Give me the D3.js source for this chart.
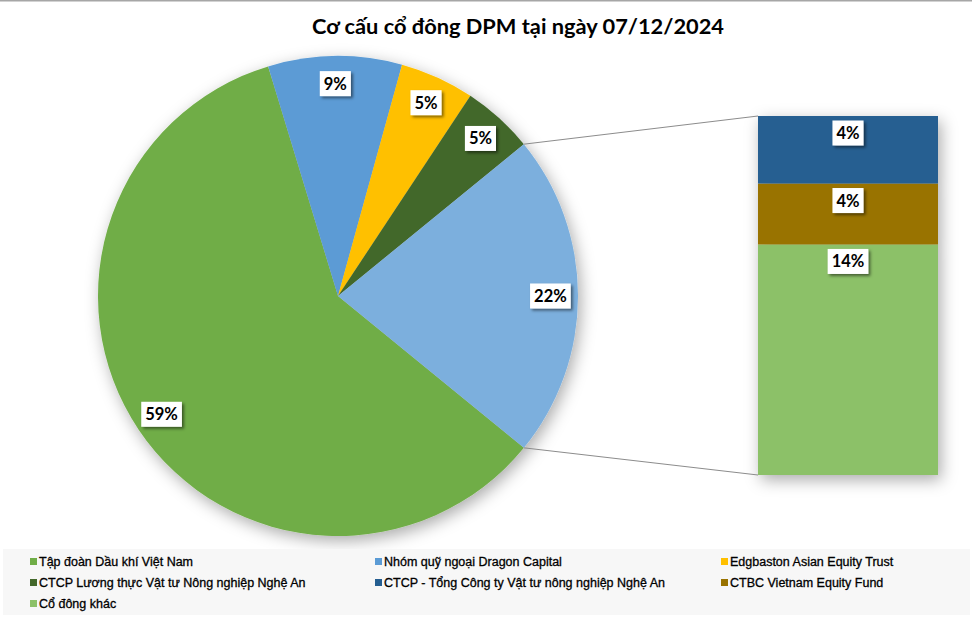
<!DOCTYPE html>
<html>
<head>
<meta charset="utf-8">
<script src="https://cdn.jsdelivr.net/npm/d3@7"></script>
<style>
  html, body { margin: 0; padding: 0; background: #ffffff; }
  svg { display: block; }
</style>
</head>
<body>
<svg id="chart" width="972" height="620"></svg>
<script>
// ---- data ----
const title = "Cơ cấu cổ đông DPM tại ngày 07/12/2024";
const pieNames = ["Tập đoàn Dầu khí Việt Nam", "Nhóm quỹ ngoại Dragon Capital", "Edgbaston Asian Equity Trust", "CTCP Lương thực Vật tư Nông nghiệp Nghệ An"];
const pieValues = [59.4, 9.0, 5.0, 4.8];
const pieColors = ["#70ad47", "#5b9bd5", "#ffc000", "#43682b"];
const otherColor = "#7cafdd";
const barNames = ["CTCP - Tổng Công ty Vật tư nông nghiệp Nghệ An", "CTBC Vietnam Equity Fund", "Cổ đông khác"];
const barValues = [4.1, 3.7, 14.0];
const barColors = ["#255e91", "#997300", "#8cc168"];
const legendNames = ["Tập đoàn Dầu khí Việt Nam", "Nhóm quỹ ngoại Dragon Capital", "Edgbaston Asian Equity Trust",
  "CTCP Lương thực Vật tư Nông nghiệp Nghệ An", "CTCP - Tổng Công ty Vật tư nông nghiệp Nghệ An", "CTBC Vietnam Equity Fund", "Cổ đông khác"];
const legendColors = ["#70ad47", "#5b9bd5", "#ffc000", "#43682b", "#255e91", "#997300", "#8cc168"];

const svg = d3.select("#chart");
const W = 972, H = 620;
const fmt = v => Math.round(v) + "%";

// defs
const defs = svg.append("defs");
const sh = defs.append("filter").attr("id", "shadow").attr("x", "-20%").attr("y", "-20%").attr("width", "140%").attr("height", "140%");
sh.append("feDropShadow").attr("dx", 3).attr("dy", 5).attr("stdDeviation", 8).attr("flood-color", "#000").attr("flood-opacity", 0.33);
const lsh = defs.append("filter").attr("id", "lshadow").attr("x", "-30%").attr("y", "-30%").attr("width", "160%").attr("height", "160%");
lsh.append("feDropShadow").attr("dx", 2).attr("dy", 2).attr("stdDeviation", 1.5).attr("flood-color", "#000").attr("flood-opacity", 0.5);

// background + top line
svg.append("rect").attr("width", W).attr("height", H).attr("fill", "#fff");
svg.append("rect").attr("x", 0).attr("y", 0).attr("width", W).attr("height", 1.5).attr("fill", "#a6a6a6");

// title
svg.append("text").attr("x", 518).attr("y", 34).attr("text-anchor", "middle")
  .attr("font-family", "Lato, 'Open Sans', sans-serif").attr("font-weight", "bold").attr("font-size", 21.8)
  .attr("fill", "#000").text(title);

// ---- pie ----
const cx = 338, cy = 296, R = 240;
const otherValue = d3.sum(barValues);
const allValues = pieValues.concat([otherValue]);
const allColors = pieColors.concat([otherColor]);
const total = d3.sum(allValues);
const start = Math.PI / 2 + (otherValue / total) * Math.PI;
const pie = d3.pie().sort(null).startAngle(start).endAngle(start + 2 * Math.PI);
const arcs = pie(allValues);
const arc = d3.arc().innerRadius(0).outerRadius(R);
const gPie = svg.append("g").attr("transform", `translate(${cx},${cy})`);
gPie.append("g").attr("filter", "url(#shadow)")
  .selectAll("path").data(arcs).join("path")
  .attr("d", arc).attr("fill", (d, i) => allColors[i]);

// ---- bar ----
const bx0 = 758, bx1 = 938, byTop = 116, byBot = 475;
const y = d3.scaleLinear().domain([0, otherValue]).range([byBot, byTop]);
// stack from bottom: last item at bottom
let cum = 0;
const segs = [];
for (let i = barValues.length - 1; i >= 0; i--) {
  segs.push({ i, v: barValues[i], y0: cum, y1: cum + barValues[i] });
  cum += barValues[i];
}
const gBar = svg.append("g");
gBar.append("g").attr("filter", "url(#shadow)")
  .selectAll("rect").data(segs).join("rect")
  .attr("x", bx0).attr("width", bx1 - bx0)
  .attr("y", d => y(d.y1)).attr("height", d => y(d.y0) - y(d.y1))
  .attr("fill", d => barColors[d.i]);

// connector lines
const oa = arcs[arcs.length - 1];
const pTop = [cx + R * Math.sin(oa.startAngle), cy - R * Math.cos(oa.startAngle)];
const pBot = [cx + R * Math.sin(oa.endAngle), cy - R * Math.cos(oa.endAngle)];
svg.append("line").attr("x1", pTop[0]).attr("y1", pTop[1]).attr("x2", bx0).attr("y2", y(otherValue))
  .attr("stroke", "#8c8c8c").attr("stroke-width", 1);
svg.append("line").attr("x1", pBot[0]).attr("y1", pBot[1]).attr("x2", bx0).attr("y2", y(0))
  .attr("stroke", "#8c8c8c").attr("stroke-width", 1);

// labels
function label(x, yy, txt) {
  const g = svg.append("g");
  const t = g.append("text").attr("x", x).attr("y", yy).attr("text-anchor", "middle").attr("dominant-baseline", "central")
    .attr("font-family", "Lato, 'Open Sans', sans-serif").attr("font-weight", "bold").attr("font-size", 16.5)
    .attr("fill", "#000").text(txt);
  const bb = t.node().getBBox();
  g.insert("rect", "text").attr("x", bb.x - 4).attr("y", yy - 12.5).attr("width", bb.width + 8).attr("height", 25)
    .attr("fill", "#fff").attr("filter", "url(#lshadow)");
}
const lr = R * 0.885;
arcs.forEach((d, i) => {
  const a = (d.startAngle + d.endAngle) / 2;
  label(cx + lr * Math.sin(a), cy - lr * Math.cos(a), fmt(allValues[i]));
});
segs.forEach(d => {
  label((bx0 + bx1) / 2, y(d.y1) + 17, fmt(d.v));
});

// ---- legend ----
svg.append("rect").attr("x", 3).attr("y", 549).attr("width", 967).attr("height", 66).attr("fill", "#f7f7f7");
const colX = [30, 375, 721], rowY = [561, 582, 603];
const gLeg = svg.append("g");
legendNames.forEach((n, i) => {
  const c = i % 3, r = Math.floor(i / 3);
  const gx = colX[c], gy = rowY[r];
  gLeg.append("rect").attr("x", gx).attr("y", gy - 3).attr("width", 7).attr("height", 7).attr("fill", legendColors[i]);
  gLeg.append("text").attr("x", gx + 9).attr("y", gy + 5)
    .attr("font-family", "'Liberation Sans', Arial, sans-serif").attr("font-size", 12.5)
    .attr("fill", "#000").attr("stroke", "#000").attr("stroke-width", 0.3).text(n);
});
</script>
</body>
</html>
